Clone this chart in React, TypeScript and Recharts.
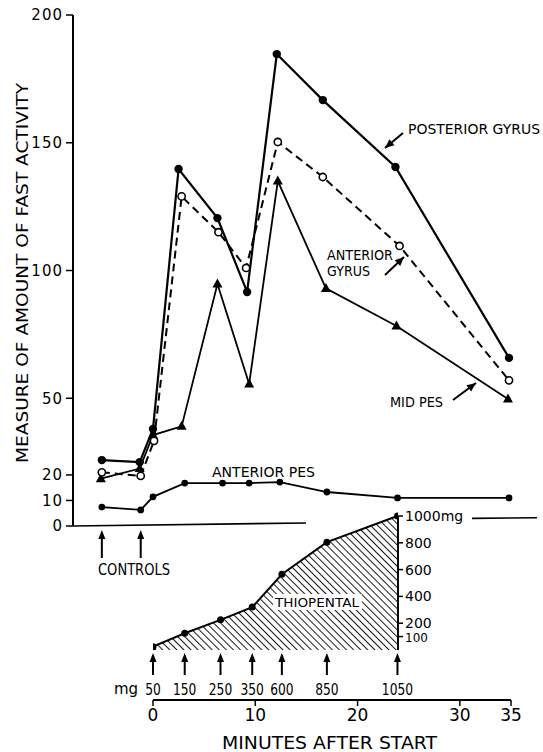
import React from "react";
import {
  Area,
  ComposedChart,
  Line,
  ReferenceDot,
  ReferenceLine,
  XAxis,
  YAxis,
} from "recharts";

const W = 543;
const H = 752;
const FONT = "'DejaVu Sans', 'Liberation Sans', sans-serif";

// minutes after start -> page x (0 min sits at x=153, ~10.23 px per minute)
const X0 = 153;
const PPM = 10.23;
const toMin = (px: number) => (px - X0) / PPM;

// upper panel: measure of amount of fast activity
const posteriorGyrusTimes = [-5, -1.3, 0, 2.5, 6.3, 9.2, 12.1, 16.6, 23.7, 34.8];
const posteriorGyrus = [25.8, 25, 38, 139.7, 120.5, 91.6, 184.7, 166.7, 140.5, 65.8];
const anteriorGyrusTimes = [-5, -1.2, 0.1, 2.8, 6.4, 9.1, 12.2, 16.6, 24.1, 34.8];
const anteriorGyrus = [21, 19.6, 33.3, 129, 115, 101, 150.3, 136.6, 109.6, 57];
const midPesTimes = [-5.1, -1.3, 0, 2.8, 6.3, 9.4, 12.2, 16.9, 23.8, 34.7];
const midPes = [18.5, 22.5, 35.6, 39, 94.7, 55.6, 135, 93, 78.3, 49.7];
const anteriorPesTimes = [-5, -1.2, 0, 3.1, 6.8, 9.4, 12.4, 17, 23.9, 34.8];
const anteriorPes = [7.4, 6.3, 11.4, 16.8, 16.8, 16.8, 17.2, 13.3, 11, 11];
const activityTicks = [0, 10, 20, 50, 100, 150, 200];
const controlTimes = [-5, -1.2];

// lower panel: thiopental injections and cumulative dose
const injectionTimes = [0, 3.1, 6.6, 9.7, 12.6, 17, 23.9];
const injectionLabels = ["50", "150", "250", "350", "600", "850", "1050"];
const cumulativeDose = [25, 125, 225, 320, 565, 805, 1000];
const doseTicks = [100, 200, 400, 600, 800, 1000];
const minuteTicks = [0, 10, 20, 30, 35];

const rows = (ts: number[], vs: number[]) => ts.map((t, i) => ({ t, v: vs[i] }));

const filledDot = (r: number) => (p: any) =>
  <circle key={p.index} cx={p.cx} cy={p.cy} r={r} fill="#000" />;
const openDot = (p: any) => (
  <circle key={p.index} cx={p.cx} cy={p.cy} r={3.6} fill="#fff" stroke="#000" strokeWidth={1.6} />
);
const triDot = (p: any) => (
  <polygon
    key={p.index}
    points={`${p.cx},${p.cy - 5.5} ${p.cx - 5},${p.cy + 3.5} ${p.cx + 5},${p.cy + 3.5}`}
    fill="#000"
  />
);

// arrow pointing up, tip just below the anchor, optional label under it
const upArrow = (tipOff: number, tailOff: number, label?: string) => (p: any) => {
  const tip = p.cy + tipOff;
  const tail = p.cy + tailOff;
  return (
    <g>
      <line x1={p.cx} y1={tip + 6} x2={p.cx} y2={tail} stroke="#000" strokeWidth={2} />
      <polygon points={`${p.cx},${tip} ${p.cx - 3.5},${tip + 9} ${p.cx + 3.5},${tip + 9}`} fill="#000" />
      {label && (
        <text
          x={p.cx}
          y={tail + 20}
          textAnchor="middle"
          fontSize={16}
          fontFamily={FONT}
          fill="#000"
          textLength={label.length * 7.8}
          lengthAdjust="spacingAndGlyphs"
        >
          {label}
        </text>
      )}
    </g>
  );
};

// dose ticks: the 100 label is drawn smaller, as in the original
const DoseTick = (p: any) => {
  const v = p.payload.value;
  const small = v === 100;
  return (
    <text
      x={p.x}
      y={p.y}
      dy={small ? "0.45em" : "0.36em"}
      textAnchor="start"
      fontSize={small ? 12 : 14}
      fontFamily={FONT}
      fill="#000"
    >
      {v === 1000 ? "1000mg" : v}
    </text>
  );
};

const tickStyle = { fill: "#000", fontSize: 15, fontFamily: FONT };

function ActivityPanel() {
  return (
    <ComposedChart width={W} height={560} margin={{ top: 15, right: 3, left: 13, bottom: 34 }}>
      <XAxis
        type="number"
        dataKey="t"
        hide
        domain={[toMin(73), toMin(540)]}
        allowDataOverflow
      />
      <YAxis
        type="number"
        domain={[0, 200]}
        ticks={activityTicks}
        interval={0}
        width={60}
        tickSize={7}
        tickMargin={3}
        axisLine={{ stroke: "#000", strokeWidth: 2 }}
        tickLine={{ stroke: "#000", strokeWidth: 1.5 }}
        tick={{ ...tickStyle, letterSpacing: 1 }}
      />
      <ReferenceLine
        segment={[{ x: toMin(73), y: 0 }, { x: toMin(306), y: 1.2 }]}
        stroke="#000"
        strokeWidth={1.6}
      />
      <ReferenceLine
        segment={[{ x: toMin(472), y: 3 }, { x: toMin(537), y: 3.2 }]}
        stroke="#000"
        strokeWidth={1.6}
      />
      <Line
        data={rows(anteriorPesTimes, anteriorPes)}
        dataKey="v"
        type="linear"
        stroke="#000"
        strokeWidth={1.8}
        dot={filledDot(3.4)}
        isAnimationActive={false}
      />
      <Line
        data={rows(midPesTimes, midPes)}
        dataKey="v"
        type="linear"
        stroke="#000"
        strokeWidth={1.8}
        dot={triDot}
        isAnimationActive={false}
      />
      <Line
        data={rows(posteriorGyrusTimes, posteriorGyrus)}
        dataKey="v"
        type="linear"
        stroke="#000"
        strokeWidth={2.2}
        dot={filledDot(4.2)}
        isAnimationActive={false}
      />
      <Line
        data={rows(anteriorGyrusTimes, anteriorGyrus)}
        dataKey="v"
        type="linear"
        stroke="#000"
        strokeWidth={2}
        strokeDasharray="8 5"
        dot={openDot}
        isAnimationActive={false}
      />
      {controlTimes.map((t) => (
        <ReferenceDot key={t} x={t} y={0} ifOverflow="visible" shape={upArrow(4, 32)} />
      ))}
    </ComposedChart>
  );
}

function DosePanel() {
  return (
    <ComposedChart width={W} height={H} margin={{ top: 516, right: 75, left: 153, bottom: 102 }}>
      <defs>
        <pattern id="hatch" patternUnits="userSpaceOnUse" width={5} height={5} patternTransform="rotate(-45)">
          <line x1={0} y1={0} x2={0} y2={5} stroke="#000" strokeWidth={1.8} />
        </pattern>
      </defs>
      <XAxis type="number" dataKey="t" hide domain={[0, toMin(398)]} allowDataOverflow />
      <YAxis
        orientation="right"
        type="number"
        domain={[0, 1000]}
        ticks={doseTicks}
        interval={0}
        width={70}
        tickSize={5}
        tickMargin={2}
        axisLine={{ stroke: "#000", strokeWidth: 2 }}
        tickLine={{ stroke: "#000", strokeWidth: 1.5 }}
        tick={DoseTick}
      />
      <Area
        data={rows(injectionTimes, cumulativeDose)}
        dataKey="v"
        type="linear"
        stroke="#000"
        strokeWidth={2}
        fill="url(#hatch)"
        fillOpacity={1}
        dot={filledDot(3.5)}
        isAnimationActive={false}
      />
    </ComposedChart>
  );
}

function MinutesPanel() {
  return (
    <ComposedChart width={W} height={H} margin={{ top: 650, right: 32, left: 153, bottom: 22 }}>
      <XAxis
        type="number"
        dataKey="t"
        domain={[0, 35]}
        ticks={minuteTicks}
        interval={0}
        height={30}
        tickSize={6}
        tickMargin={3}
        axisLine={{ stroke: "#000", strokeWidth: 2 }}
        tickLine={{ stroke: "#000", strokeWidth: 1.5 }}
        tick={{ ...tickStyle, fontSize: 17 }}
      />
      <YAxis type="number" hide domain={[0, 1000]} />
      {/* invisible series so the minutes scale is built */}
      <Line
        data={rows(injectionTimes, cumulativeDose)}
        dataKey="v"
        stroke="none"
        dot={false}
        activeDot={false}
        isAnimationActive={false}
      />
      {injectionTimes.map((t, i) => (
        <ReferenceDot
          key={t}
          x={t}
          y={1000}
          ifOverflow="visible"
          shape={upArrow(3, 25, injectionLabels[i])}
        />
      ))}
    </ComposedChart>
  );
}

const arrowHead = (x1: number, y1: number, x2: number, y2: number) => {
  const a = Math.atan2(y2 - y1, x2 - x1);
  const l = 9;
  const w = 4;
  const bx = x2 - l * Math.cos(a);
  const by = y2 - l * Math.sin(a);
  return `${x2},${y2} ${bx - w * Math.sin(a)},${by + w * Math.cos(a)} ${bx + w * Math.sin(a)},${by - w * Math.cos(a)}`;
};

function Pointer({ x1, y1, x2, y2 }: { x1: number; y1: number; x2: number; y2: number }) {
  return (
    <g>
      <line x1={x1} y1={y1} x2={x2} y2={y2} stroke="#000" strokeWidth={2} />
      <polygon points={arrowHead(x1, y1, x2, y2)} fill="#000" />
    </g>
  );
}

function Labels() {
  const t = { fontFamily: FONT, fill: "#000", lengthAdjust: "spacingAndGlyphs" as const };
  return (
    <svg width={W} height={H} style={{ position: "absolute", left: 0, top: 0, pointerEvents: "none" }}>
      <text {...t} fontSize={16} textLength={380} transform="translate(28,463) rotate(-90)">
        MEASURE OF AMOUNT OF FAST ACTIVITY
      </text>
      <text {...t} fontSize={14} x={408} y={134} textLength={132}>POSTERIOR GYRUS</text>
      <Pointer x1={403} y1={133} x2={385} y2={148} />
      <text {...t} fontSize={14} x={327} y={260} textLength={66}>ANTERIOR</text>
      <text {...t} fontSize={14} x={327} y={276} textLength={43}>GYRUS</text>
      <Pointer x1={385} y1={275} x2={404} y2={257} />
      <text {...t} fontSize={14} x={390} y={407} textLength={53}>MID PES</text>
      <Pointer x1={453} y1={400} x2={476} y2={383} />
      <text {...t} fontSize={14} x={212} y={477} textLength={103}>ANTERIOR PES</text>
      <text {...t} fontSize={15} x={98} y={575} textLength={72}>CONTROLS</text>
      <rect x={273} y={594} width={89} height={16} fill="#fff" />
      <text {...t} fontSize={13} x={275} y={607} textLength={84}>THIOPENTAL</text>
      <text {...t} fontSize={15} x={114} y={694}>mg</text>
      <text {...t} fontSize={17} x={222} y={749} textLength={215}>MINUTES AFTER START</text>
    </svg>
  );
}

export default function App() {
  return (
    <div style={{ position: "absolute", left: 0, top: 0, width: W, height: H, background: "#fff" }}>
      <div style={{ position: "absolute", left: 0, top: 0 }}>
        <DosePanel />
      </div>
      <div style={{ position: "absolute", left: 0, top: 0 }}>
        <MinutesPanel />
      </div>
      <div style={{ position: "absolute", left: 0, top: 0 }}>
        <ActivityPanel />
      </div>
      <Labels />
    </div>
  );
}
